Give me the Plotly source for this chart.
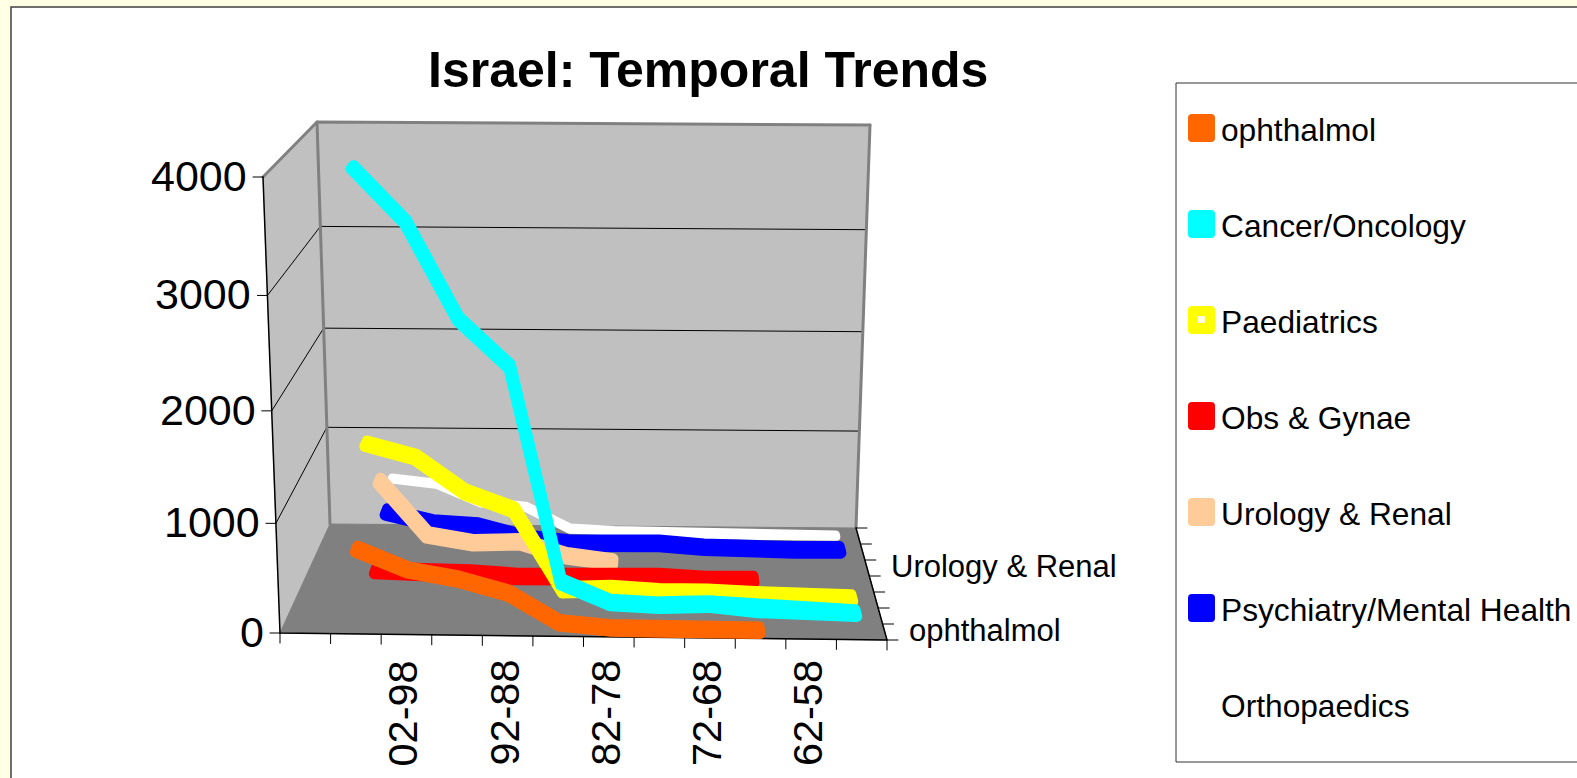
import plotly.graph_objects as go

# ---------- data ----------
categories = ["", "07-03", "02-98", "97-93", "92-88", "87-83", "82-78", "77-73", "72-68", "67-63", "62-58", "57-53"]
value_ticks = [0, 1000, 2000, 3000, 4000]
series_names = ["ophthalmol", "Cancer/Oncology", "Paediatrics", "Obs & Gynae",
                "Urology & Renal", "Psychiatry/Mental Health", "Orthopaedics"]
ophthalmol = [710, 525, 445, 320, 52, 10, 5, 5, 3]
cancer = [3990, 3525, 2678, 2260, 290, 100, 80, 95, 50, 50, 25]
paediatrics = [1430, 1310, 990, 825, 68, 85, 58, 58, 38, 18, 15]
obs_gynae = [85, 67, 70, 40, 43, 48, 52, 28, 32]
urology = [815, 290, 215, 230, 95, 37]
psychiatry = [365, 258, 230, 112, 65, 70, 70, 35, 20, 15, 20]
orthopaedics = [555, 505, 315, 275, 52, 32, 25, 8, 5, 5, 3]
series_values = [ophthalmol, cancer, paediatrics, obs_gynae, urology, psychiatry, orthopaedics]
series_colors = ["#FF6600", "#00FFFF", "#FFFF00", "#FF0000", "#FFCC99", "#0000FF", "#FFFFFF"]
first_category = 1
depth_label_series = [0, 4]
category_label_idx = [2, 4, 6, 8, 10]

# ---------- view ----------
W, H = 1577, 778
VMAX = 4000
NCAT = len(categories)
NSER = len(series_names)
FBL, FBR, BBL, BBR = (280, 633), (887, 640), (330, 524), (856, 528)
FTL, FTR, BTL, BTR = (263, 177), (904, 184), (317, 122), (870, 125)
PX_CAT = (FBR[0] - FBL[0]) / NCAT
PX_VAL = (FBL[1] - FTL[1]) / VMAX
WARP = 0.95


def lerp(a, b, f):
    return (a[0] + (b[0] - a[0]) * f, a[1] + (b[1] - a[1]) * f)


def pixel(cat, val, depth):
    """cat in category units, val in data units, depth 0 (front) .. 1 (back)."""
    uf = cat / NCAT
    v = val / VMAX
    s = WARP * v / (1 + (WARP - 1) * v)
    bottom = lerp(lerp(FBL, FBR, uf), lerp(BBL, BBR, uf), depth)
    top = lerp(lerp(FTL, FTR, uf), lerp(BTL, BTR, uf), depth)
    return lerp(bottom, top, s)


def to_axis(p):
    return ((p[0] - FBL[0]) / PX_CAT, (FBL[1] - p[1]) / PX_VAL)


def project(cat, val, depth):
    return to_axis(pixel(cat, val, depth))


def add_poly(fig, pts, color, close=True, width=1.0, fill=None):
    pts = list(pts)
    if close:
        pts = pts + [pts[0]]
    fig.add_trace(go.Scatter(
        x=[p[0] for p in pts], y=[p[1] for p in pts], mode="lines",
        line=dict(color=color, width=width), fill="toself" if fill else "none",
        fillcolor=fill, hoverinfo="skip", showlegend=False))


fig = go.Figure()

# walls and floor
add_poly(fig, [project(0, 0, 0), project(0, 0, 1), project(0, VMAX, 1), project(0, VMAX, 0)], "#C0C0C0", fill="#C0C0C0")
add_poly(fig, [project(0, 0, 1), project(NCAT, 0, 1), project(NCAT, VMAX, 1), project(0, VMAX, 1)], "#C0C0C0", fill="#C0C0C0")
add_poly(fig, [project(0, 0, 0), project(NCAT, 0, 0), project(NCAT, 0, 1), project(0, 0, 1)], "#808080", fill="#808080")

# gridlines
for v in value_ticks[1:-1]:
    add_poly(fig, [project(0, v, 0), project(0, v, 1), project(NCAT, v, 1)], "#000000", close=False, width=1)
# wall edges
add_poly(fig, [project(0, VMAX, 0), project(0, VMAX, 1), project(NCAT, VMAX, 1)], "#808080", close=False, width=3)
add_poly(fig, [project(0, VMAX, 1), project(0, 0, 1)], "#808080", close=False, width=3)
add_poly(fig, [project(NCAT, VMAX, 1), project(NCAT, 0, 1)], "#808080", close=False, width=3)
# axis lines
add_poly(fig, [project(0, VMAX, 0), project(0, 0, 0), project(NCAT, 0, 0), project(NCAT, 0, 1)], "#000000", close=False, width=1.5)


def shifted(p, dx, dy):
    return to_axis((p[0] + dx, p[1] + dy))


# value ticks
for v in value_ticks:
    p = pixel(0, v, 0)
    add_poly(fig, [to_axis(p), shifted(p, -10, 0)], "#000000", close=False, width=1)
# category ticks
for i in range(NCAT + 1):
    p = pixel(i, 0, 0)
    add_poly(fig, [to_axis(p), shifted(p, 0, 10)], "#000000", close=False, width=1)
# depth ticks
for i in range(NSER + 1):
    p = pixel(NCAT, 0, i / NSER)
    add_poly(fig, [to_axis(p), shifted(p, 11, 0)], "#000000", close=False, width=1)

# series ribbons, back to front
half_depth = [0.03, 0.03, 0.03, 0.03, 0.03, 0.03, 0.01]
stroke = [11, 11, 11, 11, 11, 11, 8]
for k in range(NSER - 1, -1, -1):
    vals = series_values[k]
    d = (k + 0.5) / NSER
    cats = [first_category + i + 0.5 for i in range(len(vals))]
    front = [project(c, v, d - half_depth[k]) for c, v in zip(cats, vals)]
    back = [project(c, v, d + half_depth[k]) for c, v in zip(cats, vals)]
    add_poly(fig, front + back[::-1], series_colors[k], width=stroke[k], fill=series_colors[k])

FONT = "Liberation Sans"
ann = []


def label(p, text, size, xanchor="center", angle=0, bold=False):
    a = to_axis(p)
    ann.append(dict(x=a[0], y=a[1], xref="x", yref="y", text=f"<b>{text}</b>" if bold else text,
                    showarrow=False, xanchor=xanchor, yanchor="middle", textangle=angle,
                    font=dict(family=FONT, size=size, color="#000000")))


for v in value_ticks:
    p = pixel(0, v, 0)
    label((p[0] - 14, p[1] - 1), str(v), 43, xanchor="right")
for i in category_label_idx:
    p = pixel(i + 0.5, 0, 0)
    label((p[0] - 4, 713), categories[i], 41.5, angle=-90)
for k in depth_label_series:
    p = pixel(NCAT, 0, (k + 0.5) / NSER)
    label((p[0] + 22, p[1] - 2), series_names[k], 31, xanchor="left")
label((708, 70), "Israel: Temporal Trends", 50, bold=True)

# page frame and legend box, in paper coordinates
shapes = []


def px_paper(x, y):
    return x / W, 1 - y / H


x0, y0 = px_paper(11, 7)
x1, y1 = px_paper(W + 20, H + 20)
shapes.append(dict(type="rect", xref="paper", yref="paper", x0=x0, y0=y0, x1=x1, y1=y1,
                   fillcolor="#FFFFFF", line=dict(color="#404040", width=1.5), layer="below"))
x0, y0 = px_paper(1176, 83)
x1, y1 = px_paper(W + 20, 762)
shapes.append(dict(type="rect", xref="paper", yref="paper", x0=x0, y0=y0, x1=x1, y1=y1,
                   fillcolor="#FFFFFF", line=dict(color="#303030", width=1), layer="below"))


def rounded(xa, ya, xb, yb, r):
    def P(x, y):
        return f"{x:.5f},{y:.5f}"
    rx, ry = r / W, r / H
    a = px_paper(xa, ya)
    b = px_paper(xb, yb)
    return (f"M{P(a[0] + rx, a[1])} L{P(b[0] - rx, a[1])} Q{P(b[0], a[1])} {P(b[0], a[1] - ry)} "
            f"L{P(b[0], b[1] + ry)} Q{P(b[0], b[1])} {P(b[0] - rx, b[1])} L{P(a[0] + rx, b[1])} "
            f"Q{P(a[0], b[1])} {P(a[0], b[1] + ry)} L{P(a[0], a[1] - ry)} Q{P(a[0], a[1])} {P(a[0] + rx, a[1])} Z")


for i, name in enumerate(series_names):
    yc = 128 + 96 * i
    shapes.append(dict(type="path", xref="paper", yref="paper", path=rounded(1188, yc - 14, 1215, yc + 14, 4),
                       fillcolor=series_colors[i], line=dict(width=0)))
    xp, yp = px_paper(1219, yc + 2)
    ann.append(dict(x=xp, y=yp, xref="paper", yref="paper", text=name, showarrow=False,
                    xanchor="left", yanchor="middle", font=dict(family=FONT, size=31.7, color="#000000")))
# small light square inside the Paediatrics key
a = px_paper(1198, 316)
b = px_paper(1205, 323)
shapes.append(dict(type="rect", xref="paper", yref="paper", x0=a[0], y0=a[1], x1=b[0], y1=b[1],
                   fillcolor="#FFFFE0", line=dict(width=0)))

xa = to_axis((0, 0))[0], to_axis((W, 0))[0]
ya = to_axis((0, H))[1], to_axis((0, 0))[1]
fig.update_layout(
    width=W, height=H, autosize=False, margin=dict(l=0, r=0, t=0, b=0),
    paper_bgcolor="#FFFFE5", plot_bgcolor="rgba(0,0,0,0)", showlegend=False,
    xaxis=dict(range=list(xa), visible=False, fixedrange=True),
    yaxis=dict(range=list(ya), visible=False, fixedrange=True),
    shapes=shapes, annotations=ann)
page_css = ("document.body.style.margin='0';document.body.style.overflow='hidden';"
            "var s=document.createElement('style');"
            "s.textContent='.scatterlayer path{stroke-linejoin:round !important;stroke-linecap:round !important}';"
            "document.head.appendChild(s);")
fig.write_html("out.html", config={"displayModeBar": False}, post_script=page_css)
